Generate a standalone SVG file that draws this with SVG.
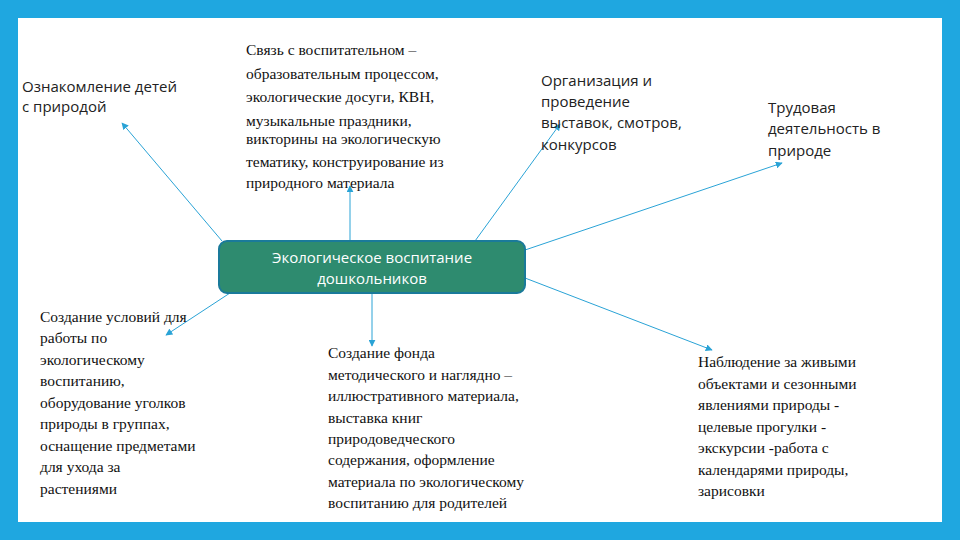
<svg xmlns="http://www.w3.org/2000/svg" width="960" height="540" viewBox="0 0 960 540">
<defs>
<marker id="ah" viewBox="0 0 10 10" refX="9" refY="5" markerWidth="7" markerHeight="7" orient="auto"><path d="M0,0 L10,5 L0,10 z" fill="#2aa3d6"/></marker>
<style>
.s{font-family:"Open Sans","Noto Sans",sans-serif;font-size:15px;fill:#222}
.r{font-family:"Liberation Serif",serif;font-size:15.5px;fill:#111}
.c{stroke:#2aa3d6;stroke-width:1;fill:none;marker-end:url(#ah)}
</style>
</defs>
<rect width="960" height="540" fill="#1fa7e0"/>
<rect x="18" y="18" width="924" height="504" fill="#fff"/>
<g id="connectors">
<line class="c" x1="222" y1="241" x2="122" y2="123"/>
<line class="c" x1="350" y1="241" x2="350" y2="186"/>
<line class="c" x1="475" y1="241" x2="560" y2="124"/>
<line class="c" x1="525" y1="250" x2="782" y2="163"/>
<line class="c" x1="525" y1="278" x2="712" y2="350"/>
<line class="c" x1="372" y1="293" x2="372" y2="346"/>
<line class="c" x1="230" y1="293" x2="166" y2="335"/>
</g>
<g id="center">
<rect x="219" y="241" width="306" height="52" rx="8" fill="#2e8b6f" stroke="#1a7a9a" stroke-width="2"/>
<text x="372" y="263" text-anchor="middle" style="font-family:'Open Sans',sans-serif;font-size:15px;fill:#fff">Экологическое воспитание</text>
<text x="372" y="284" text-anchor="middle" style="font-family:'Open Sans',sans-serif;font-size:15px;fill:#fff">дошкольников</text>
</g>
<g id="n1"><text class="s" x="22" y="92">Ознакомление детей</text><text class="s" x="22" y="112">с природой</text></g>
<g id="n2"><text class="r">
<tspan x="246" y="55">Связь с воспитательном  –</tspan>
<tspan x="246" y="79">образовательным процессом,</tspan>
<tspan x="246" y="102">экологические досуги, КВН,</tspan>
<tspan x="246" y="126">музыкальные праздники,</tspan>
<tspan x="246" y="144">викторины на экологическую</tspan>
<tspan x="246" y="167">тематику, конструирование из</tspan>
<tspan x="246" y="188">природного материала</tspan></text></g>
<g id="n3"><text class="s">
<tspan x="541" y="86">Организация и</tspan>
<tspan x="541" y="107">проведение</tspan>
<tspan x="541" y="128">выставок, смотров,</tspan>
<tspan x="541" y="150">конкурсов</tspan></text></g>
<g id="n4"><text class="s">
<tspan x="768" y="113">Трудовая</tspan>
<tspan x="768" y="134">деятельность в</tspan>
<tspan x="768" y="156">природе</tspan></text></g>
<g id="n5"><text class="r">
<tspan x="40" y="322">Создание условий для</tspan>
<tspan x="40" y="343">работы по</tspan>
<tspan x="40" y="365">экологическому</tspan>
<tspan x="40" y="386">воспитанию,</tspan>
<tspan x="40" y="408">оборудование уголков</tspan>
<tspan x="40" y="429">природы в группах,</tspan>
<tspan x="40" y="451">оснащение предметами</tspan>
<tspan x="40" y="472">для ухода за</tspan>
<tspan x="40" y="494">растениями</tspan></text></g>
<g id="n6"><text class="r">
<tspan x="328" y="358">Создание фонда</tspan>
<tspan x="328" y="380">методического и наглядно –</tspan>
<tspan x="328" y="401">иллюстративного материала,</tspan>
<tspan x="328" y="423">выставка книг</tspan>
<tspan x="328" y="444">природоведческого</tspan>
<tspan x="328" y="465">содержания, оформление</tspan>
<tspan x="328" y="487">материала по экологическому</tspan>
<tspan x="328" y="508">воспитанию для родителей</tspan></text></g>
<g id="n7"><text class="r">
<tspan x="698" y="367">Наблюдение за живыми</tspan>
<tspan x="698" y="389">объектами и сезонными</tspan>
<tspan x="698" y="410">явлениями природы -</tspan>
<tspan x="698" y="432">целевые прогулки -</tspan>
<tspan x="698" y="453">экскурсии -работа с</tspan>
<tspan x="698" y="475">календарями природы,</tspan>
<tspan x="698" y="496">зарисовки</tspan></text></g>
</svg>
